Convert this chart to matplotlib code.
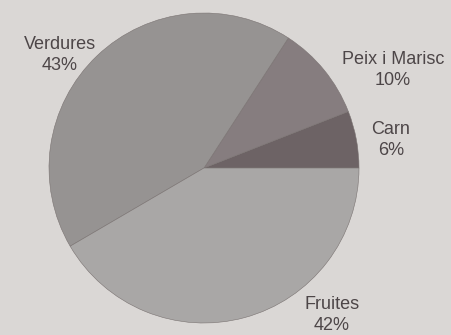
import numpy as np
import matplotlib
matplotlib.use('Agg')
import matplotlib.pyplot as plt

# food share (%), counter-clockwise from 3 o'clock
labels = ['Carn', 'Peix i Marisc', 'Verdures', 'Fruites']
shares = [6, 10, 43, 42]
colors = ['#6d6365', '#867d7f', '#969392', '#a9a7a6']

# label centres in pixels of the original picture
label_px = [(391, 140), (393, 70), (60, 55), (332, 315)]

W, H = 451, 335
cx, cy, r = 204, 168, 155

fig = plt.figure(figsize=(W / 100, H / 100), dpi=100)
fig.patch.set_facecolor('#dad7d5')
ax = fig.add_axes([0, 0, 1, 1])
ax.set_facecolor('#dad7d5')

ax.pie(shares, colors=colors, startangle=0, counterclock=True,
       radius=1, center=(0, 0), normalize=True,
       wedgeprops=dict(edgecolor='#7a7372', linewidth=0.4))

ax.set_xlim(-cx / r, (W - cx) / r)
ax.set_ylim(-(H - cy) / r, cy / r)
ax.set_aspect('auto')
ax.axis('off')

for lab, val, (px, py) in zip(labels, shares, label_px):
    ax.text((px - cx) / r, (cy - py) / r, f'{lab}\n{val}%',
            ha='center', va='center', fontsize=13,
            family='Liberation Sans', color='#4d4648', linespacing=1.3)

fig.savefig('out.png', dpi=100, facecolor=fig.get_facecolor())
